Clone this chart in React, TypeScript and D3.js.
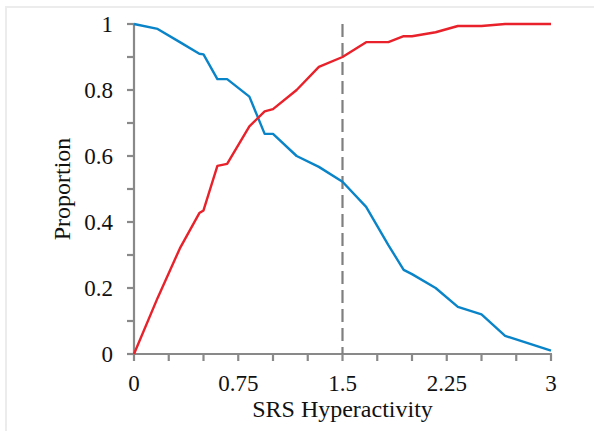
import { useEffect, useRef } from "react";
import * as d3 from "d3";

// SRS Hyperactivity cut-off points
const xValues = [0, 0.17, 0.33, 0.47, 0.5, 0.6, 0.67, 0.83, 0.94, 1.0, 1.17, 1.33, 1.5, 1.67, 1.83, 1.94, 2.0, 2.17, 2.33, 2.5, 2.67, 3];
const blueValues = [1, 0.985, 0.945, 0.91, 0.908, 0.833, 0.833, 0.78, 0.667, 0.667, 0.6, 0.567, 0.522, 0.446, 0.33, 0.255, 0.242, 0.2, 0.143, 0.12, 0.055, 0.01];
const redValues = [0, 0.17, 0.32, 0.427, 0.435, 0.57, 0.576, 0.69, 0.735, 0.742, 0.8, 0.87, 0.9, 0.945, 0.945, 0.963, 0.963, 0.975, 0.994, 0.994, 1, 1];
const cutoff = 1.5;
const xTickLabels = [0, 0.75, 1.5, 2.25, 3];
const yTickLabels = [0, 0.2, 0.4, 0.6, 0.8, 1];

const FONT = "'Liberation Serif', 'Times New Roman', serif";
const AXIS = "#898989";

export default function App() {
  const svgRef = useRef<SVGSVGElement>(null);

  useEffect(() => {
    if (!svgRef.current) return;
    const svg = d3.select(svgRef.current);
    svg.selectAll("*").remove();

    const width = 594;
    const height = 431;
    const margin = { top: 24, right: 43, bottom: 77, left: 134 };

    // light frame
    svg.append("rect")
      .attr("x", 6).attr("y", 7)
      .attr("width", width).attr("height", height)
      .attr("fill", "white")
      .attr("stroke", "#ececec").attr("stroke-width", 2);

    const x = d3.scaleLinear().domain([0, 3]).range([margin.left, width - margin.right]);
    const y = d3.scaleLinear().domain([0, 1]).range([height - margin.bottom, margin.top]);

    // y axis
    svg.append("line")
      .attr("x1", x(0)).attr("x2", x(0))
      .attr("y1", y(0)).attr("y2", y(1))
      .attr("stroke", AXIS).attr("stroke-width", 2.2);
    d3.range(0, 11).forEach((i) => {
      svg.append("line")
        .attr("x1", x(0) - 7).attr("x2", x(0))
        .attr("y1", y(i / 10)).attr("y2", y(i / 10))
        .attr("stroke", AXIS).attr("stroke-width", 2.2);
    });
    yTickLabels.forEach((v) => {
      svg.append("text")
        .attr("x", x(0) - 21).attr("y", y(v) + 8)
        .attr("text-anchor", "end")
        .attr("font-family", FONT).attr("font-size", "23px")
        .attr("fill", "#111")
        .text(String(v));
    });

    // x axis
    svg.append("line")
      .attr("x1", x(0) - 7).attr("x2", x(3) + 1)
      .attr("y1", y(0)).attr("y2", y(0))
      .attr("stroke", AXIS).attr("stroke-width", 2.2);
    d3.range(0, 13).forEach((i) => {
      svg.append("line")
        .attr("x1", x(i * 0.25)).attr("x2", x(i * 0.25))
        .attr("y1", y(0)).attr("y2", y(0) + 7)
        .attr("stroke", AXIS).attr("stroke-width", 2.2);
    });
    xTickLabels.forEach((v) => {
      svg.append("text")
        .attr("x", x(v)).attr("y", y(0) + 37)
        .attr("text-anchor", "middle")
        .attr("font-family", FONT).attr("font-size", "23px")
        .attr("fill", "#111")
        .text(String(v));
    });

    // axis titles
    svg.append("text")
      .attr("x", (x(0) + x(3)) / 2).attr("y", 417)
      .attr("text-anchor", "middle")
      .attr("font-family", FONT).attr("font-size", "24px")
      .attr("fill", "#111")
      .text("SRS Hyperactivity");
    const yMid = (y(0) + y(1)) / 2;
    svg.append("text")
      .attr("x", 70).attr("y", yMid)
      .attr("text-anchor", "middle")
      .attr("transform", `rotate(-90, 70, ${yMid})`)
      .attr("font-family", FONT).attr("font-size", "24px")
      .attr("fill", "#111")
      .text("Proportion");

    // cut-off line
    svg.append("line")
      .attr("x1", x(cutoff)).attr("x2", x(cutoff))
      .attr("y1", y(1)).attr("y2", y(0))
      .attr("stroke", "#7f7f7f").attr("stroke-width", 2.2)
      .attr("stroke-dasharray", "13,6");

    const line = (vals: number[]) =>
      d3.line<number>()
        .x((_, i) => x(xValues[i]))
        .y((d) => y(d))(vals);

    svg.append("path")
      .attr("d", line(blueValues))
      .attr("fill", "none")
      .attr("stroke", "#0a84c8").attr("stroke-width", 2.4)
      .attr("stroke-linejoin", "round");

    svg.append("path")
      .attr("d", line(redValues))
      .attr("fill", "none")
      .attr("stroke", "#e8212a").attr("stroke-width", 2.4)
      .attr("stroke-linejoin", "round");
  }, []);

  return (
    <svg
      ref={svgRef}
      width={594}
      height={431}
      style={{ position: "absolute", left: 0, top: 0, background: "white" }}
    />
  );
}
